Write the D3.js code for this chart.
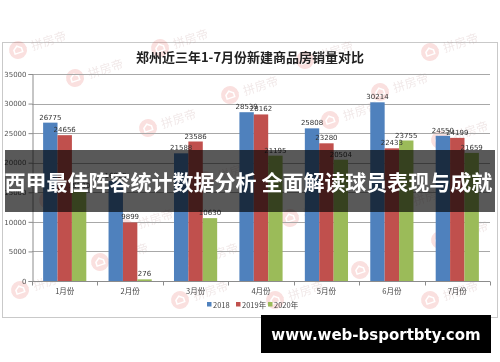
<!DOCTYPE html>
<html>
    <head>
        <meta http-equiv="Content-Type" content="text/html;charset=utf-8">
        <script src="https://d3js.org/d3.v7.min.js"></script>
        <title>郑州近三年1-7月份新建商品房销量对比</title>
        <style>
            body { margin:0; background:#fff; }
            svg { display:block; }
        </style>
    </head>
    <body>
        <svg width="500" height="362"></svg>
    </body>
    <script>
        // data
        var months = ["1月份","2月份","3月份","4月份","5月份","6月份","7月份"];
        var seriesNames = ["2018","2019年","2020年"];
        var sales2018 = [26775, 16925, 21588, 28539, 25808, 30214, 24550];
        var sales2019 = [24656, 9899, 23586, 28162, 23280, 22433, 24199];
        var sales2020 = [15300, 276, 10630, 21195, 20504, 23755, 21659];
        var yTicks = [0, 5000, 10000, 15000, 20000, 25000, 30000, 35000];
        var colors = ["#4f81bd", "#c0504d", "#9bbb59"];

        var title = "郑州近三年1-7月份新建商品房销量对比";
        var banner = "西甲最佳阵容统计数据分析 全面解读球员表现与成就";
        var site = "www.web-bsportbty.com";

        var series = [sales2018, sales2019, sales2020];

        var svg = d3.select("svg");
        var cjk = "'Noto Sans CJK SC', 'Noto Sans', sans-serif";

        svg.append("rect")
            .attr("width", 500).attr("height", 362)
            .attr("fill", "#fff");

        // chart frame
        svg.append("rect")
            .attr("x", 2.5).attr("y", 42.5)
            .attr("width", 495).attr("height", 275)
            .attr("fill", "#fff")
            .attr("stroke", "#c9c9c9");

        // faint watermarks
        var marks = [[18,50],[75,78],[160,48],[148,128],[230,95],[305,60],[380,92],[430,52],
                     [440,140],[48,200],[125,228],[205,180],[290,218],[400,205],[440,240],
                     [20,290],[100,262],[190,262],[275,300],[360,270],[430,300],[330,120],[180,300]];
        var wm = svg.append("g").attr("opacity", 0.18);
        marks.forEach(function(p){
            var g = wm.append("g").attr("transform", "translate(" + p[0] + "," + p[1] + ") rotate(-18)");
            g.append("circle").attr("r", 9).attr("fill", "#e0504a");
            g.append("path").attr("d", "M-4,3 L-4,-1 L0,-4 L4,-1 L4,3 Z")
                .attr("fill", "none").attr("stroke", "#fff").attr("stroke-width", 1.5);
            g.append("text").attr("x", 14).attr("y", 5)
                .attr("font-family", cjk).attr("font-size", 12)
                .attr("fill", "#b08080").text("拼房帝");
        });

        var x = d3.scaleBand()
            .domain(months)
            .range([32, 490])
            .paddingInner(0.34)
            .paddingOuter(0.17);

        var xi = d3.scaleBand()
            .domain(d3.range(series.length))
            .range([0, x.bandwidth()]);

        var y = d3.scaleLinear()
            .domain([0, 35000])
            .range([281, 74]);

        // gridlines
        svg.append("g")
            .selectAll("line")
            .data(yTicks.slice(1))
            .join("line")
                .attr("x1", 32).attr("x2", 490)
                .attr("y1", function(d){ return Math.round(y(d)) + 0.5; })
                .attr("y2", function(d){ return Math.round(y(d)) + 0.5; })
                .attr("stroke", "#a8a8a8")
                .attr("stroke-width", 1);

        // y axis
        var yAxis = svg.append("g")
            .attr("transform", "translate(32.5,0)")
            .call(d3.axisLeft(y).tickValues(yTicks).tickSize(4).tickFormat(d3.format("d")));
        yAxis.select(".domain").attr("stroke", "#8c8c8c");
        yAxis.selectAll(".tick line").attr("stroke", "#8c8c8c");
        yAxis.selectAll("text")
            .attr("font-family", "'DejaVu Sans', sans-serif")
            .attr("font-size", 7)
            .attr("fill", "#555")
            .attr("x", -6);

        // bars
        var groups = svg.append("g")
            .selectAll("g")
            .data(months)
            .join("g")
                .attr("transform", function(d){ return "translate(" + x(d) + ",0)"; });

        groups.selectAll("rect")
            .data(function(d, i){ return series.map(function(s, k){ return {k:k, v:s[i]}; }); })
            .join("rect")
                .attr("x", function(d){ return xi(d.k); })
                .attr("width", xi.bandwidth())
                .attr("y", function(d){ return y(d.v); })
                .attr("height", function(d){ return y(0) - y(d.v); })
                .attr("fill", function(d){ return colors[d.k]; });

        groups.selectAll("text")
            .data(function(d, i){ return series.map(function(s, k){ return {k:k, v:s[i]}; }); })
            .join("text")
                .attr("x", function(d){ return xi(d.k) + xi.bandwidth() / 2; })
                .attr("y", function(d){ return y(d.v) - 3; })
                .attr("text-anchor", "middle")
                .attr("font-family", "'DejaVu Sans', sans-serif")
                .attr("font-size", 7)
                .attr("fill", "#333")
                .text(function(d){ return d.v; });

        // x axis
        var xAxis = svg.append("g").attr("transform", "translate(0,281.5)");
        xAxis.append("line")
            .attr("x1", 32).attr("x2", 490)
            .attr("stroke", "#8c8c8c");
        xAxis.selectAll("line.tk")
            .data(d3.range(months.length + 1))
            .join("line")
                .attr("class", "tk")
                .attr("x1", function(i){ return Math.round(32 + i * x.step()) + 0.5; })
                .attr("x2", function(i){ return Math.round(32 + i * x.step()) + 0.5; })
                .attr("y1", 0).attr("y2", 4)
                .attr("stroke", "#8c8c8c");
        xAxis.selectAll("text")
            .data(months)
            .join("text")
                .attr("x", function(d){ return x(d) + x.bandwidth() / 2; })
                .attr("y", 12)
                .attr("text-anchor", "middle")
                .attr("font-family", cjk)
                .attr("font-size", 7.5)
                .attr("fill", "#444")
                .text(function(d){ return d; });

        // legend
        var legend = svg.append("g").attr("transform", "translate(207,306)");
        var lx = [0, 29, 61];
        seriesNames.forEach(function(n, k){
            var g = legend.append("g").attr("transform", "translate(" + lx[k] + ",0)");
            g.append("rect").attr("x", 0).attr("y", -4).attr("width", 4.5).attr("height", 4.5)
                .attr("fill", colors[k]);
            g.append("text").attr("x", 6).attr("y", 1.5)
                .attr("font-family", cjk).attr("font-size", 7.5)
                .attr("fill", "#444").text(n);
        });

        // title
        svg.append("text")
            .attr("x", 250).attr("y", 62)
            .attr("text-anchor", "middle")
            .attr("font-family", cjk)
            .attr("font-weight", "bold")
            .attr("font-size", 13)
            .attr("fill", "#222")
            .text(title);

        // banner overlay
        svg.append("rect")
            .attr("x", 5).attr("y", 150)
            .attr("width", 490).attr("height", 62)
            .attr("fill", "rgba(0,0,0,0.65)");
        svg.append("text")
            .attr("x", 248.5).attr("y", 189.5)
            .attr("text-anchor", "middle")
            .attr("font-family", cjk)
            .attr("font-weight", "bold")
            .attr("font-size", 21)
            .attr("fill", "#fff")
            .text(banner);

        // site box
        svg.append("rect")
            .attr("x", 261).attr("y", 315)
            .attr("width", 230).attr("height", 38)
            .attr("fill", "#000");
        svg.append("text")
            .attr("x", 376).attr("y", 339.5)
            .attr("text-anchor", "middle")
            .attr("font-family", "'DejaVu Sans', sans-serif")
            .attr("font-weight", "bold")
            .attr("font-size", 15)
            .attr("fill", "#fff")
            .text(site);
    </script>
</html>
